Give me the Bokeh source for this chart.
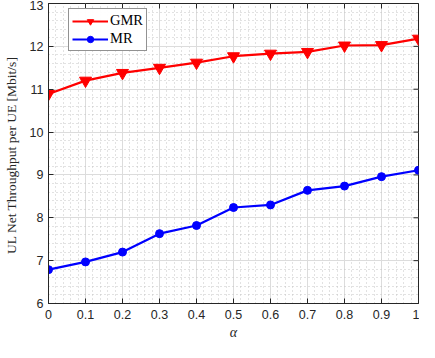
import math
from bokeh.plotting import figure
from bokeh.models import Range1d, FixedTicker, Legend, LegendItem
from bokeh.embed import file_html
from bokeh.resources import INLINE

alpha = [0, 0.1, 0.2, 0.3, 0.4, 0.5, 0.6, 0.7, 0.8, 0.9, 1.0]
gmr = [10.89, 11.20, 11.38, 11.50, 11.62, 11.77, 11.83, 11.87, 12.02, 12.03, 12.18]
mr = [6.79, 6.97, 7.20, 7.63, 7.82, 8.24, 8.30, 8.64, 8.74, 8.96, 9.11]
x_ticks = [0, 0.1, 0.2, 0.3, 0.4, 0.5, 0.6, 0.7, 0.8, 0.9, 1]
y_ticks = [6, 7, 8, 9, 10, 11, 12, 13]
x_minor = [round(i * 0.02, 2) for i in range(51)]
y_minor = [round(6 + i * 0.2, 1) for i in range(36)]
x_min, x_max = 0, 1
y_min, y_max = 6, 13

p = figure(width=419, height=342, x_range=Range1d(x_min, x_max), y_range=Range1d(y_min, y_max),
           output_backend="svg", toolbar_location=None,
           min_border_left=35, min_border_right=1, min_border_top=3, min_border_bottom=36)
axcol = "#262626"
p.outline_line_color = axcol
p.outline_line_width = 1

for ax in [p.xaxis[0], p.yaxis[0]]:
    ax.major_tick_in = 5
    ax.major_tick_out = 0
    ax.minor_tick_in = 0
    ax.minor_tick_out = 0
    ax.axis_line_color = axcol
    ax.major_tick_line_color = axcol
    ax.major_label_text_font = "Liberation Sans"
    ax.major_label_text_font_size = "12.5px"
    ax.major_label_text_color = axcol
    ax.axis_label_text_font = "Liberation Serif"
    ax.axis_label_text_font_style = "normal"
    ax.axis_label_text_color = axcol

p.xaxis.ticker = FixedTicker(ticks=x_ticks, minor_ticks=x_minor)
p.yaxis.ticker = FixedTicker(ticks=y_ticks, minor_ticks=y_minor)
p.xaxis.major_label_overrides = {1: "1", 0: "0"}
p.xaxis.axis_label = "α"
p.xaxis.axis_label_text_font_style = "italic"
p.xaxis.axis_label_text_font_size = "14px"
p.xaxis.axis_label_standoff = 3
p.xaxis.major_label_standoff = 6
p.yaxis.axis_label = "UL Net Throughput per UE  [Mbit/s]"
p.yaxis.axis_label_text_font_size = "13.5px"
p.yaxis.axis_label_standoff = 8
p.yaxis.major_label_standoff = 5

p.xgrid.grid_line_color = "#dcdcdc"
p.ygrid.grid_line_color = "#dcdcdc"
p.xgrid.minor_grid_line_color = "#c4c4c4"
p.ygrid.minor_grid_line_color = "#c4c4c4"
p.xgrid.minor_grid_line_dash = "1 3"
p.ygrid.minor_grid_line_dash = "1 3"
p.xgrid.ticker = p.xaxis[0].ticker
p.ygrid.ticker = p.yaxis[0].ticker

# inward ticks on the right and top edges (half of each dash is clipped by the frame)
p.scatter([x_max] * len(y_ticks), y_ticks, marker="dash", size=10, line_color=axcol, line_width=1)
p.scatter(x_ticks, [y_max] * len(x_ticks), marker="dash", size=10, angle=math.pi / 2,
          line_color=axcol, line_width=1)

l1 = p.line(alpha, gmr, line_color="red", line_width=2.2)
m1 = p.scatter(alpha, gmr, marker="inverted_triangle", size=12, fill_color="red", line_color="red")
l2 = p.line(alpha, mr, line_color="blue", line_width=2.2)
m2 = p.scatter(alpha, mr, marker="circle", size=8, fill_color="blue", line_color="blue")

legend = Legend(items=[LegendItem(label="GMR", renderers=[l1, m1]),
                       LegendItem(label="MR", renderers=[l2, m2])],
                location=(20, 252))
legend.label_text_font = "Liberation Serif"
legend.label_text_font_size = "14.5px"
legend.label_text_color = "#000000"
legend.glyph_width = 36
legend.glyph_height = 16
legend.spacing = 1
legend.padding = 3
legend.margin = 0
legend.label_standoff = 2
legend.border_line_color = axcol
legend.border_line_width = 1
p.add_layout(legend)

open("out.html", "w").write(file_html(p, INLINE))
